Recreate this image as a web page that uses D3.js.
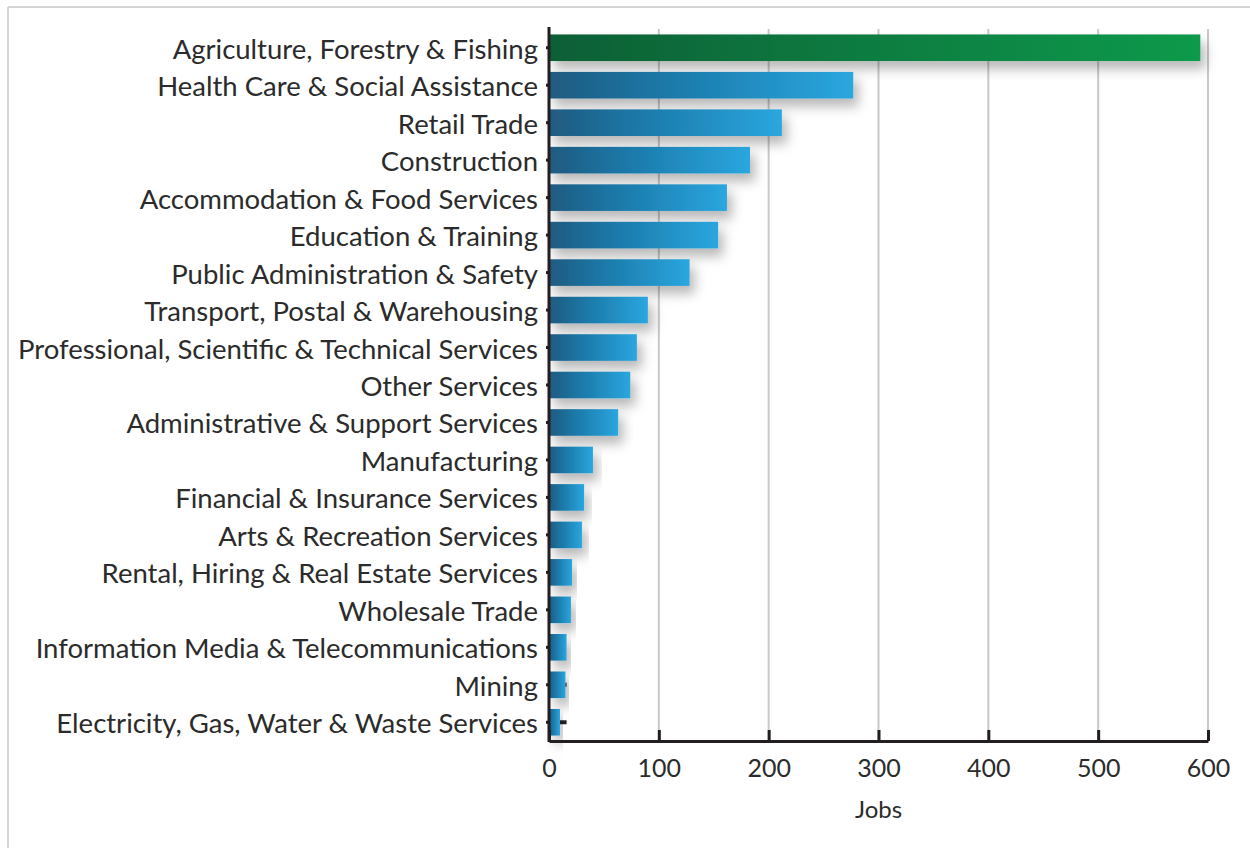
<!DOCTYPE html>
<html>
<head>
<meta charset="utf-8">
<script src="https://cdn.jsdelivr.net/npm/d3@7"></script>
<style>
  html, body { margin: 0; padding: 0; background: #fff; }
  svg { display: block; }
  text { font-family: Lato, "Open Sans", sans-serif; fill: #2b2b2b; }
</style>
</head>
<body>
<svg id="chart" width="1250" height="848"></svg>
<script>
const categories = [
  "Agriculture, Forestry & Fishing",
  "Health Care & Social Assistance",
  "Retail Trade",
  "Construction",
  "Accommodation & Food Services",
  "Education & Training",
  "Public Administration & Safety",
  "Transport, Postal & Warehousing",
  "Professional, Scientific & Technical Services",
  "Other Services",
  "Administrative & Support Services",
  "Manufacturing",
  "Financial & Insurance Services",
  "Arts & Recreation Services",
  "Rental, Hiring & Real Estate Services",
  "Wholesale Trade",
  "Information Media & Telecommunications",
  "Mining",
  "Electricity, Gas, Water & Waste Services"
];
const jobs = [593, 277, 212, 183, 162, 154, 128, 90, 80, 74, 63, 40, 32, 30, 21, 20, 16, 15, 10];
const markerCats = ["Mining", "Electricity, Gas, Water & Waste Services"];
const markerValues = [16, 16];
const xTicks = [0, 100, 200, 300, 400, 500, 600];
const xLabel = "Jobs";

const svg = d3.select("#chart");

// frame
svg.append("line").attr("x1", 8).attr("x2", 8).attr("y1", 7).attr("y2", 848)
  .attr("stroke", "#d6d6d6").attr("stroke-width", 2);
svg.append("line").attr("x1", 8).attr("x2", 1250).attr("y1", 7).attr("y2", 7)
  .attr("stroke", "#d6d6d6").attr("stroke-width", 2);

const x = d3.scaleLinear().domain([0, 600]).range([549, 1208]);
const y = d3.scaleBand().domain(categories).range([29, 741]).paddingInner(0.29).paddingOuter(0.145);

const defs = svg.append("defs");
const gB = defs.append("linearGradient").attr("id", "gBlue").attr("x1", "0%").attr("x2", "100%");
gB.append("stop").attr("offset", "0%").attr("stop-color", "#215a80");
gB.append("stop").attr("offset", "35%").attr("stop-color", "#1a76a5");
gB.append("stop").attr("offset", "100%").attr("stop-color", "#2aa6df");
const gG = defs.append("linearGradient").attr("id", "gGreen").attr("x1", "0%").attr("x2", "100%");
gG.append("stop").attr("offset", "0%").attr("stop-color", "#0d5f36");
gG.append("stop").attr("offset", "100%").attr("stop-color", "#109a4b");
const f = defs.append("filter").attr("id", "shadow").attr("x", "-10%").attr("y", "-60%").attr("width", "130%").attr("height", "280%");
f.append("feDropShadow").attr("dx", 5).attr("dy", 8).attr("stdDeviation", 6)
  .attr("flood-color", "#000").attr("flood-opacity", 0.28);

// gridlines
svg.append("g").selectAll("line").data(xTicks.filter(d => d > 0)).join("line")
  .attr("x1", d => x(d)).attr("x2", d => x(d))
  .attr("y1", 29).attr("y2", 741)
  .attr("stroke", "#c8c8c8").attr("stroke-width", 2);

// bars
svg.append("g").selectAll("rect").data(categories).join("rect")
  .attr("x", x(0))
  .attr("y", d => y(d))
  .attr("height", y.bandwidth())
  .attr("width", (d, i) => x(jobs[i]) - x(0))
  .attr("fill", (d, i) => i === 0 ? "url(#gGreen)" : "url(#gBlue)")
  .attr("filter", "url(#shadow)");

// small markers
svg.append("g").selectAll("line").data(markerCats).join("line")
  .attr("x1", d => x(jobs[categories.indexOf(d)]))
  .attr("x2", (d, i) => x(markerValues[i]))
  .attr("y1", d => y(d) + y.bandwidth() / 2)
  .attr("y2", d => y(d) + y.bandwidth() / 2)
  .attr("stroke", "#231f20").attr("stroke-width", 4);

// y axis
const yAxis = svg.append("g").attr("transform", `translate(${x(0)},0)`)
  .call(d3.axisLeft(y).tickSize(3).tickPadding(8));
yAxis.select(".domain").remove();
yAxis.selectAll(".tick line").attr("stroke", "#231f20").attr("stroke-width", 3);
yAxis.selectAll(".tick text").attr("font-size", 27.5).attr("font-family", "Lato")
  .attr("fill", "#2b2b2b").attr("dy", "0.4em");
svg.append("line").attr("x1", x(0)).attr("x2", x(0)).attr("y1", 27).attr("y2", 742)
  .attr("stroke", "#231f20").attr("stroke-width", 3);

// x axis
const xAxis = svg.append("g").attr("transform", "translate(0,741)")
  .call(d3.axisBottom(x).tickValues(xTicks).tickSizeInner(-11).tickSizeOuter(0).tickPadding(18));
xAxis.select(".domain").attr("stroke", "#231f20").attr("stroke-width", 3);
xAxis.selectAll(".tick line").attr("stroke", "#231f20").attr("stroke-width", 3);
xAxis.selectAll(".tick text").attr("font-size", 25).attr("font-family", "Lato").attr("fill", "#2b2b2b");

svg.append("text").attr("x", x(300)).attr("y", 818).attr("text-anchor", "middle")
  .attr("font-size", 24).text(xLabel);
</script>
</body>
</html>
